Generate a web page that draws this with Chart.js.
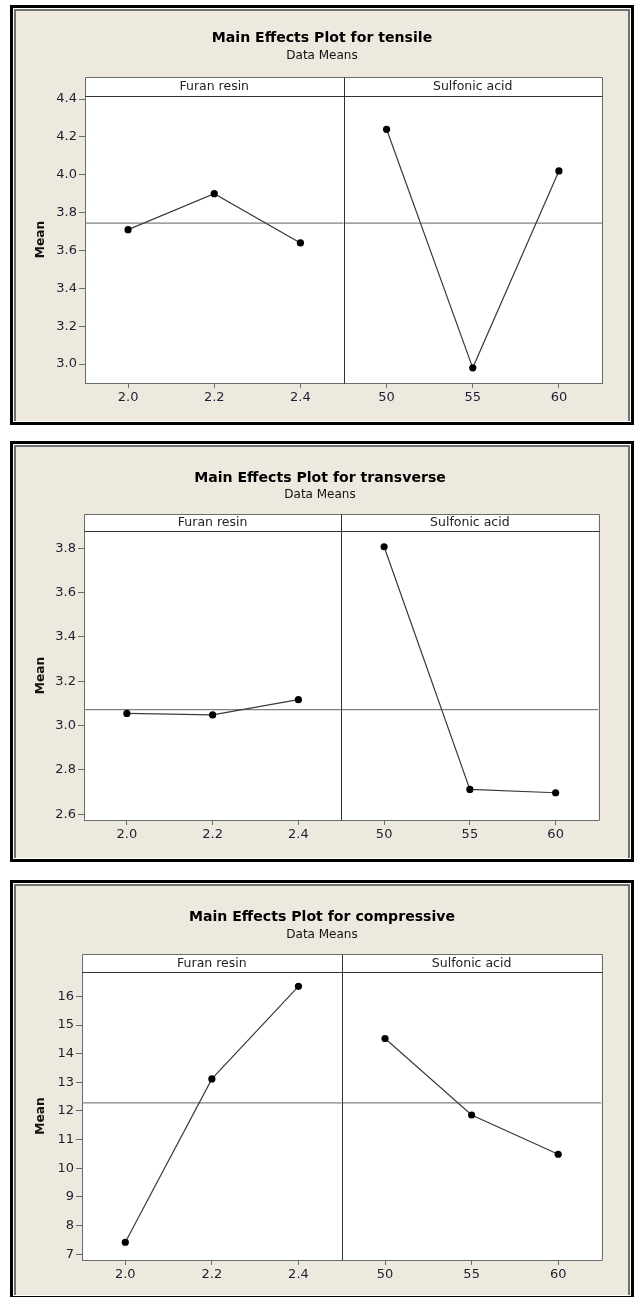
<!DOCTYPE html>
<html>
<head>
<meta charset="utf-8">
<script src="https://cdn.jsdelivr.net/npm/chart.js@4.4.1/dist/chart.umd.min.js"></script>
<style>
  html, body { margin: 0; padding: 0; background: #fff; }
  body { width: 635px; height: 1297px; overflow: hidden; position: relative; }
  .frame { position: absolute; left: 10px; width: 624px; box-sizing: border-box;
           border: 3px solid #000; background: #fff; }
  .frame .inner { position: absolute; left: 1px; top: 1px; right: 1px; bottom: 1px;
                  border-left: 2px solid #707070; border-top: 2px solid #707070; border-right: 2px solid #707070;
                  background: #ede9df; }
  canvas { position: absolute; left: 0; z-index: 1; }
</style>
</head>
<body>
<div id="frames"></div>
<canvas id="c0"></canvas>
<canvas id="c1"></canvas>
<canvas id="c2"></canvas>
<script>
// factor levels (x axes)
const furanLevels = [2.0, 2.2, 2.4];
const sulfonicLevels = [50, 55, 60];
const furanRange = [1.9, 2.5];
const sulfonicRange = [47.5, 62.5];
const factorNames = ['Furan resin', 'Sulfonic acid'];
const responses = ['tensile', 'transverse', 'compressive'];

// means
const tensileFuran = [3.71, 3.90, 3.64];
const tensileSulfonic = [4.24, 2.98, 4.02];
const transverseFuran = [3.055, 3.048, 3.117];
const transverseSulfonic = [3.807, 2.712, 2.697];
const compressiveFuran = [7.42, 13.12, 16.35];
const compressiveSulfonic = [14.53, 11.86, 10.49];
const grandMeans = [3.745, 3.072, 12.28];

// y ticks and limits
const tensileTicks = [3.0, 3.2, 3.4, 3.6, 3.8, 4.0, 4.2, 4.4];
const transverseTicks = [2.6, 2.8, 3.0, 3.2, 3.4, 3.6, 3.8];
const compressiveTicks = [7, 8, 9, 10, 11, 12, 13, 14, 15, 16];
const yLimits = [[2.90, 4.416], [2.574, 3.878], [6.80, 16.85]];

const furanSeries = [tensileFuran, transverseFuran, compressiveFuran];
const sulfonicSeries = [tensileSulfonic, transverseSulfonic, compressiveSulfonic];
const yTickSets = [tensileTicks, transverseTicks, compressiveTicks];
const yDecimals = [1, 1, 0];

// page layout (pixels, relative to each frame's top)
const layouts = [
  { top: 5,   height: 420, titleY: 33.5, subY: 51, stripTop: 72, plotTop: 91, plotBottom: 378, plotLeft: 85, plotRight: 602,   titleX: 322 },
  { top: 441, height: 421, titleY: 37,   subY: 54, stripTop: 73, plotTop: 90, plotBottom: 379, plotLeft: 84, plotRight: 598.5, titleX: 320 },
  { top: 880, height: 419, titleY: 37.5, subY: 55, stripTop: 74, plotTop: 92, plotBottom: 380, plotLeft: 82, plotRight: 601.5, titleX: 322 }
];

const FONT = '"DejaVu Sans", sans-serif';
const TITLE_SIZE = 14.1, SUB_SIZE = 12, YTITLE_SIZE = 12.3;
const AXIS_GREY = '#6b6b6b';
const TEXT = '#1e1e30';

const panelFrame = {
  id: 'panelFrame',
  beforeDraw(chart, args, opts) {
    const { ctx, chartArea: a } = chart;
    ctx.save();
    ctx.fillStyle = '#fff';
    ctx.fillRect(a.left, opts.stripTop, a.right - a.left, a.bottom - opts.stripTop);
    ctx.restore();
  },
  afterDraw(chart, args, opts) {
    const { ctx, chartArea: a, scales } = chart;
    const top = Math.round(opts.stripTop) + 0.5;
    const l = Math.round(a.left) + 0.5, r = Math.round(a.right) + 0.5;
    const t = Math.round(a.top) + 0.5, b = Math.round(a.bottom) + 0.5;
    const xd = Math.round(scales.x2.left) + 0.5;
    ctx.save();
    ctx.lineWidth = 1;
    ctx.strokeStyle = AXIS_GREY;
    ctx.beginPath();
    ctx.moveTo(l, top); ctx.lineTo(r, top); ctx.lineTo(r, b);
    ctx.moveTo(l, top); ctx.lineTo(l, t);
    ctx.stroke();
    ctx.strokeStyle = '#333';
    ctx.beginPath();
    ctx.moveTo(l, t); ctx.lineTo(r, t);
    ctx.moveTo(xd, top); ctx.lineTo(xd, b);
    ctx.stroke();
    ctx.fillStyle = '#222';
    ctx.font = '12.5px ' + FONT;
    ctx.textAlign = 'center';
    ctx.textBaseline = 'middle';
    const ym = (opts.stripTop + a.top) / 2 + 0.5;
    ctx.fillText(opts.labels[0], (scales.x1.left + scales.x1.right) / 2, ym);
    ctx.fillText(opts.labels[1], (scales.x2.left + scales.x2.right) / 2, ym);
    ctx.restore();
  }
};

const frames = document.getElementById('frames');

layouts.forEach((L, i) => {
  const f = document.createElement('div');
  f.className = 'frame';
  f.style.top = L.top + 'px';
  f.style.height = L.height + 'px';
  f.innerHTML = '<div class="inner"></div>';
  frames.appendChild(f);

  const canvas = document.getElementById('c' + i);
  canvas.width = 635;
  canvas.height = L.height;
  canvas.style.top = L.top + 'px';

  const titleLH = TITLE_SIZE * 1.2, subLH = SUB_SIZE * 1.2;
  const titlePadTop = L.titleY - titleLH / 2;
  const titleBottom = titlePadTop + titleLH;
  const subPadTop = L.subY - subLH / 2 - titleBottom;
  const subPadBottom = L.plotTop - (L.subY + subLH / 2);
  const xAxisH = 30;
  const padRight = 635 - L.plotRight;
  // left padding chosen so that the full-width title box is centred on titleX
  const padLeft = 2 * L.titleX - 635 + padRight;
  const yTitleCenter = 40.5;

  const fmtY = (v) => Number(v).toFixed(yDecimals[i]);
  const mean = grandMeans[i];

  new Chart(canvas, {
    type: 'line',
    data: {
      datasets: [
        {
          xAxisID: 'x1', yAxisID: 'y',
          data: furanLevels.map((x, k) => ({ x, y: furanSeries[i][k] })),
          borderColor: '#3a3a3a', borderWidth: 1.2,
          pointRadius: 3.6, pointBackgroundColor: '#000', pointBorderWidth: 0
        },
        {
          xAxisID: 'x2', yAxisID: 'y',
          data: sulfonicLevels.map((x, k) => ({ x, y: sulfonicSeries[i][k] })),
          borderColor: '#3a3a3a', borderWidth: 1.2,
          pointRadius: 3.6, pointBackgroundColor: '#000', pointBorderWidth: 0
        },
        {
          xAxisID: 'x1', yAxisID: 'y',
          data: furanRange.map(x => ({ x, y: mean })),
          borderColor: '#808080', borderWidth: 1.3, pointRadius: 0
        },
        {
          xAxisID: 'x2', yAxisID: 'y',
          data: sulfonicRange.map(x => ({ x, y: mean })),
          borderColor: '#808080', borderWidth: 1.3, pointRadius: 0
        }
      ]
    },
    options: {
      responsive: false,
      animation: false,
      devicePixelRatio: 1,
      events: [],
      layout: {
        padding: {
          left: padLeft,
          right: padRight,
          top: 0,
          bottom: L.height - L.plotBottom - xAxisH
        }
      },
      plugins: {
        legend: { display: false },
        tooltip: { enabled: false },
        title: {
          display: true,
          text: 'Main Effects Plot for ' + responses[i],
          color: '#000',
          font: { family: FONT, size: TITLE_SIZE, weight: 'bold', lineHeight: 1.2 },
          padding: { top: titlePadTop, bottom: 0 }
        },
        subtitle: {
          display: true,
          text: 'Data Means',
          color: '#111',
          font: { family: FONT, size: SUB_SIZE, lineHeight: 1.2 },
          padding: { top: subPadTop, bottom: subPadBottom }
        },
        panelFrame: { stripTop: L.stripTop, labels: factorNames }
      },
      scales: {
        y: {
          type: 'linear',
          position: 'left',
          min: yLimits[i][0],
          max: yLimits[i][1],
          afterBuildTicks: (axis) => { axis.ticks = yTickSets[i].map(v => ({ value: v })); },
          afterFit: (axis) => { axis.width = L.plotLeft - padLeft; },
          ticks: { color: TEXT, font: { family: FONT, size: 13 }, padding: 2, callback: fmtY },
          grid: { drawOnChartArea: false, color: AXIS_GREY, tickLength: 6 },
          border: { color: AXIS_GREY, width: 1 },
          title: {
            display: true, text: 'Mean', color: '#111',
            font: { family: FONT, size: YTITLE_SIZE, weight: 'bold', lineHeight: 1.2 },
            padding: { top: yTitleCenter - padLeft - YTITLE_SIZE * 0.6, bottom: 0 }
          }
        },
        x1: {
          type: 'linear',
          position: 'bottom',
          stack: 'factors',
          stackWeight: 1,
          min: furanRange[0],
          max: furanRange[1],
          afterBuildTicks: (axis) => { axis.ticks = furanLevels.map(v => ({ value: v })); },
          afterFit: (axis) => { axis.height = xAxisH; },
          ticks: { color: TEXT, font: { family: FONT, size: 13 }, padding: 2, autoSkip: false, maxRotation: 0,
                   callback: (v) => Number(v).toFixed(1) },
          grid: { drawOnChartArea: false, color: AXIS_GREY, tickLength: 5 },
          border: { color: AXIS_GREY, width: 1 }
        },
        x2: {
          type: 'linear',
          position: 'bottom',
          stack: 'factors',
          stackWeight: 1,
          min: sulfonicRange[0],
          max: sulfonicRange[1],
          afterBuildTicks: (axis) => { axis.ticks = sulfonicLevels.map(v => ({ value: v })); },
          afterFit: (axis) => { axis.height = xAxisH; },
          ticks: { color: TEXT, font: { family: FONT, size: 13 }, padding: 2, autoSkip: false, maxRotation: 0,
                   callback: (v) => String(v) },
          grid: { drawOnChartArea: false, color: AXIS_GREY, tickLength: 5 },
          border: { color: AXIS_GREY, width: 1 }
        }
      }
    },
    plugins: [panelFrame]
  });
});
</script>
</body>
</html>
